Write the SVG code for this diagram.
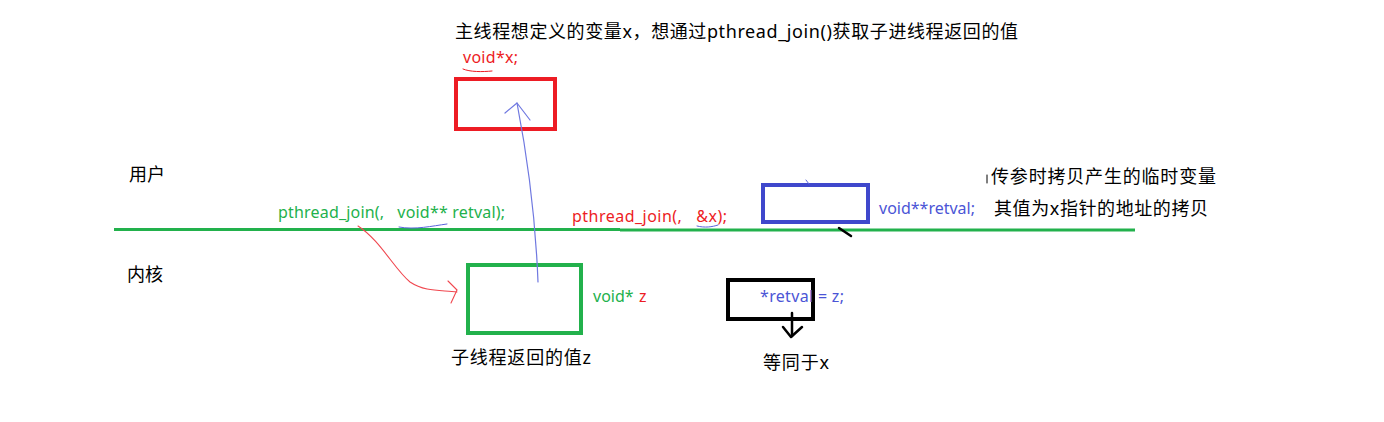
<svg xmlns="http://www.w3.org/2000/svg" width="1384" height="422" viewBox="0 0 1384 422">
<style>
text{font-family:"Noto Sans","Noto Sans CJK SC",sans-serif}
.cn{font-size:18px;fill:#000}
.code{font-size:16px}
.g{fill:#22b14c}.r{fill:#ed1c24}.b{fill:#4b55d6}
.box{fill:none;stroke-width:4}
.pen{fill:none;stroke-linecap:round;stroke-linejoin:round}
</style>
<rect width="1384" height="422" fill="#fff"/>
<g id="divider">
<line x1="114" y1="229.5" x2="620" y2="229.5" stroke="#22b14c" stroke-width="3"/>
<line x1="620" y1="230" x2="1135" y2="230" stroke="#22b14c" stroke-width="3"/>
</g>
<g id="labels">
<text class="cn" x="455" y="38" textLength="563">主线程想定义的变量x，想通过pthread_join()获取子进线程返回的值</text>
<text class="cn" x="129" y="181">用户</text>
<text class="cn" x="127" y="281">内核</text>
<text class="cn" x="991" y="183" textLength="225">传参时拷贝产生的临时变量</text>
<text class="cn" x="994" y="215" textLength="214">其值为x指针的地址的拷贝</text>
</g>
<g id="main-var">
<rect class="box" x="456" y="79" width="99" height="50" stroke="#ed1c24"/>
<text class="code r" x="463" y="63" textLength="55">void*x;</text>
</g>
<g id="user-call">
<text class="code g" x="278" y="218" textLength="227" xml:space="preserve">pthread_join(,   void** retval);</text>
</g>
<g id="user-call-red">
<text class="code r" x="572" y="222" textLength="155" xml:space="preserve">pthread_join(,   &amp;x);</text>
</g>
<g id="retval-box">
<rect class="box" x="763" y="185" width="105" height="37" stroke="#3f48cc"/>
<text class="code b" x="879" y="214" textLength="96">void**retval;</text>
</g>
<g id="child-box">
<rect class="box" x="468" y="265" width="113" height="68" stroke="#22b14c"/>
<text class="code g" x="593" y="302">void*</text>
<text class="code r" x="639" y="302">z</text>
<text class="cn" x="451" y="364" textLength="140">子线程返回的值z</text>
</g>
<g id="assign-box">
<rect class="box" x="728" y="280" width="85" height="39" stroke="#000"/>
<text class="code b" x="760" y="302" textLength="84">*retval = z;</text>
<text class="cn" x="763" y="369" textLength="66">等同于x</text>
</g>
<g id="connectors">
<path class="pen" d="M538 282 C536 230 530 170 517 103" stroke="#6f78e0" stroke-width="1.2"/>
<path class="pen" d="M505 113 L517 103 L530 120" stroke="#6f78e0" stroke-width="1.2"/>
<path class="pen" d="M358 226 C380 240 395 270 410 282 C425 292 440 290 457 292" stroke="#f0474f" stroke-width="1.1"/>
<path class="pen" d="M448 281 L457 290 L451 303" stroke="#f0474f" stroke-width="1.1"/>
<path class="pen" d="M399 227 C415 230 432 226 447 224" stroke="#5a64dd" stroke-width="1"/>
<path class="pen" d="M697 226 C705 228 712 227 718 225" stroke="#5a64dd" stroke-width="1"/>
<path class="pen" d="M463 69 C470 72 482 72 492 71" stroke="#ed1c24" stroke-width="1"/>
<path class="pen" d="M806 180 L809 184" stroke="#5a64dd" stroke-width="1"/>
<path class="pen" d="M839 228 L851 236" stroke="#000" stroke-width="2.5"/>
<path class="pen" d="M792 313 L792 336" stroke="#000" stroke-width="2.5"/>
<path class="pen" d="M783 327 L791 337 L802 327" stroke="#000" stroke-width="2.5"/>
<path class="pen" d="M987 175 L987 183" stroke="#000" stroke-width="1"/>
</g>
</svg>
